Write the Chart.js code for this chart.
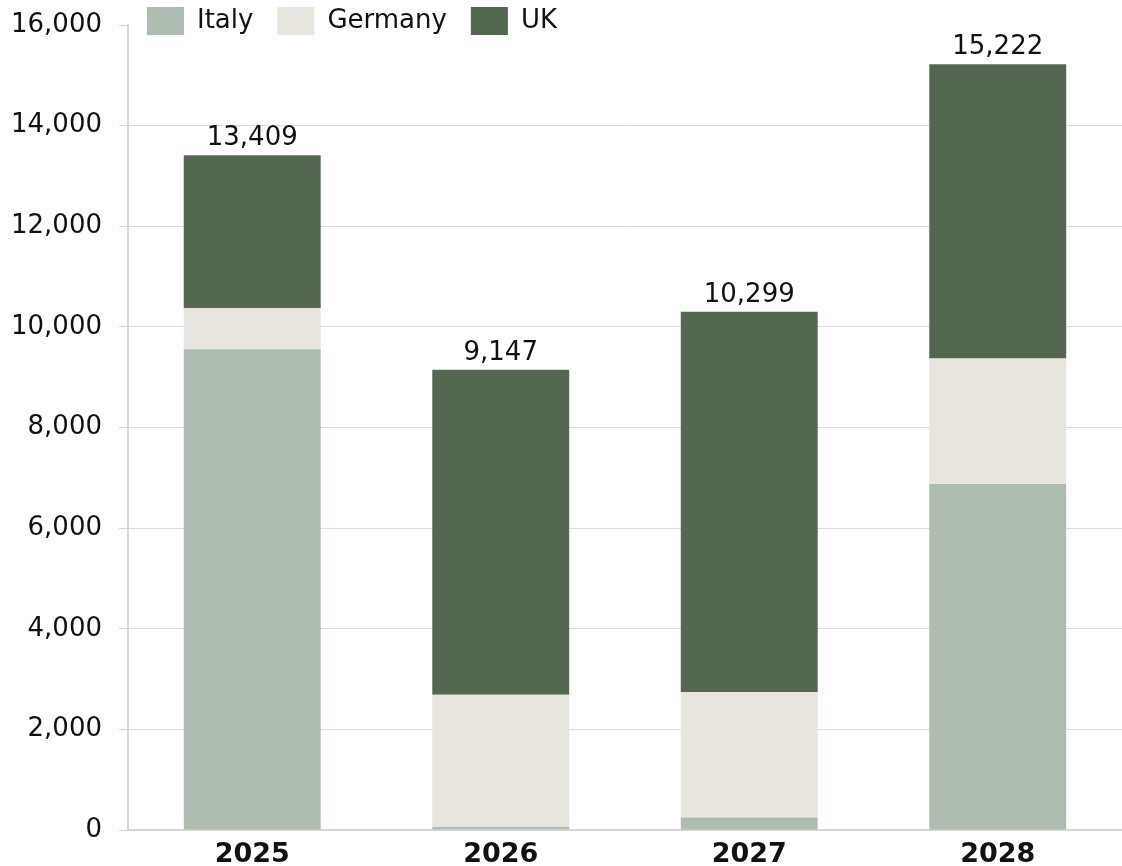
<!DOCTYPE html>
<html>
<head>
<meta charset="utf-8">
<script src="https://cdn.jsdelivr.net/npm/chart.js@4/dist/chart.umd.min.js"></script>
<style>
  html, body { margin: 0; padding: 0; background: #ffffff; }
  #wrap { width: 1122px; height: 866px; }
</style>
</head>
<body>
<div id="wrap"><canvas id="c" width="1122" height="866"></canvas></div>
<script>
const categories = ['2025', '2026', '2027', '2028'];
const italy   = [9556, 60, 249, 6878];
const germany = [816, 2629, 2492, 2493];
const uk      = [3037, 6458, 7558, 5851];
const yTicks  = [0, 2000, 4000, 6000, 8000, 10000, 12000, 14000, 16000];

const totals = categories.map((_, i) => italy[i] + germany[i] + uk[i]);
const FONT = "'DejaVu Sans', Verdana, sans-serif";
const fmt = v => v.toLocaleString('en-US');

const totalLabels = {
  id: 'totalLabels',
  afterDatasetsDraw(chart) {
    const ctx = chart.ctx;
    const meta = chart.getDatasetMeta(chart.data.datasets.length - 1);
    ctx.save();
    ctx.font = "26px " + FONT;
    ctx.fillStyle = '#111111';
    ctx.textAlign = 'center';
    ctx.textBaseline = 'alphabetic';
    meta.data.forEach((bar, i) => {
      ctx.fillText(fmt(totals[i]), bar.x, bar.y - 10);
    });
    ctx.restore();
  }
};

const legendShift = {
  id: 'legendShift',
  afterLayout(chart) {
    const lg = chart.legend;
    if (lg) {
      lg.left = chart.chartArea.left - 5;
      lg.top = chart.chartArea.top - 42;
      lg.height = 80;
      lg.bottom = lg.top + 80;
      lg.width = chart.width - lg.left;
      lg.right = chart.width;
    }
  }
};

new Chart(document.getElementById('c'), {
  type: 'bar',
  data: {
    labels: categories,
    datasets: [
      { label: 'Italy',   data: italy,   backgroundColor: '#adbeb0' },
      { label: 'Germany', data: germany, backgroundColor: '#e8e5df' },
      { label: 'UK',      data: uk,      backgroundColor: '#536751' }
    ]
  },
  options: {
    responsive: false,
    animation: false,
    devicePixelRatio: 1,
    layout: { padding: { left: -6, right: 0, top: 24, bottom: -14 } },
    datasets: { bar: { barPercentage: 0.551, categoryPercentage: 1.0 } },
    plugins: {
      legend: {
        position: 'top',
        align: 'start',
        maxHeight: 1,
        labels: {
          boxWidth: 37,
          boxHeight: 28,
          padding: 24,
          color: '#111111',
          font: { family: FONT, size: 26 }
        }
      },
      tooltip: { enabled: false }
    },
    scales: {
      x: {
        stacked: true,
        grid: { display: false, drawTicks: false },
        border: { display: true, color: '#d6d6d6', width: 2 },
        ticks: {
          color: '#111111',
          padding: 11.5,
          font: { family: FONT, size: 27, weight: 'bold', lineHeight: 1.0 }
        }
      },
      y: {
        stacked: true,
        min: 0,
        max: 16000,
        afterBuildTicks(scale) { scale.ticks = yTicks.map(v => ({ value: v })); },
        grid: {
          color: c => (c.tick && c.tick.value === 16000) ? 'rgba(0,0,0,0)' : '#dcdcdc',
          tickColor: '#d6d6d6',
          tickLength: 9,
          lineWidth: 1
        },
        border: { display: true, color: '#d6d6d6', width: 2 },
        ticks: {
          color: '#111111',
          padding: 17,
          font: { family: FONT, size: 26, lineHeight: 0.6 },
          callback: v => fmt(v)
        }
      }
    }
  },
  plugins: [totalLabels, legendShift]
});
</script>
</body>
</html>
